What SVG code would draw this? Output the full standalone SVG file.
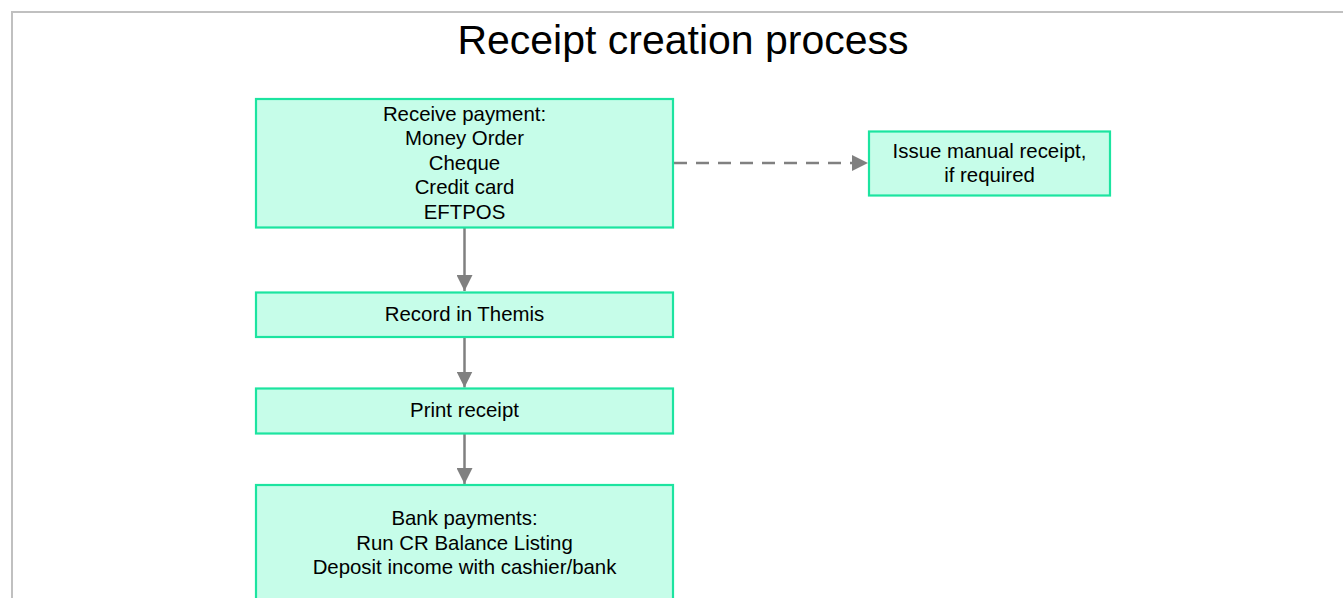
<svg xmlns="http://www.w3.org/2000/svg" width="1343" height="598" viewBox="0 0 1343 598">
<style>
.frame{fill:#fff;stroke:#c0c0c0;stroke-width:2}
.box{fill:#c6fde9;stroke:#1ce4a0;stroke-width:2.2}
.t{font-family:"Liberation Sans",Arial,sans-serif;font-size:20.4px;fill:#000;text-anchor:middle}
.title{font-family:"Liberation Sans",Arial,sans-serif;font-size:41px;fill:#000;text-anchor:middle}
.c{stroke:#808080;stroke-width:2.5;fill:none}
.d{stroke-dasharray:13 9}
</style>
<defs>
<marker id="ah2" viewBox="0 0 14 14" refX="14" refY="7" markerWidth="16" markerHeight="16" markerUnits="userSpaceOnUse" orient="auto">
<path d="M0,0 L14,7 L0,14 Z" fill="#808080"/>
</marker>
</defs>
<rect class="frame" x="12" y="12" width="1340" height="600"/>
<text class="title" x="683" y="54">Receipt creation process</text>
<g id="connectors">
<line class="c" x1="464.5" y1="228" x2="464.5" y2="291" marker-end="url(#ah2)"/>
<line class="c" x1="464.5" y1="337" x2="464.5" y2="387.5" marker-end="url(#ah2)"/>
<line class="c" x1="464.5" y1="434" x2="464.5" y2="484" marker-end="url(#ah2)"/>
<line class="c d" x1="674" y1="163" x2="868" y2="163" marker-end="url(#ah2)"/>
</g>
<g id="receive">
<rect class="box" x="256" y="99" width="417" height="128.5"/>
<text class="t" x="464.5" y="120.5">Receive payment:</text>
<text class="t" x="464.5" y="145">Money Order</text>
<text class="t" x="464.5" y="169.5">Cheque</text>
<text class="t" x="464.5" y="194">Credit card</text>
<text class="t" x="464.5" y="218.5">EFTPOS</text>
</g>
<g id="manual">
<rect class="box" x="869" y="131.5" width="241" height="64"/>
<text class="t" x="989.5" y="157.5">Issue manual receipt,</text>
<text class="t" x="989.5" y="182">if required</text>
</g>
<g id="record">
<rect class="box" x="256" y="292.5" width="417" height="44.5"/>
<text class="t" x="464.5" y="320.5">Record in Themis</text>
</g>
<g id="print">
<rect class="box" x="256" y="388.5" width="417" height="45"/>
<text class="t" x="464.5" y="416.5">Print receipt</text>
</g>
<g id="bank">
<rect class="box" x="256" y="485" width="417" height="120"/>
<text class="t" x="464.5" y="525">Bank payments:</text>
<text class="t" x="464.5" y="549.5">Run CR Balance Listing</text>
<text class="t" x="464.5" y="574">Deposit income with cashier/bank</text>
</g>
</svg>
